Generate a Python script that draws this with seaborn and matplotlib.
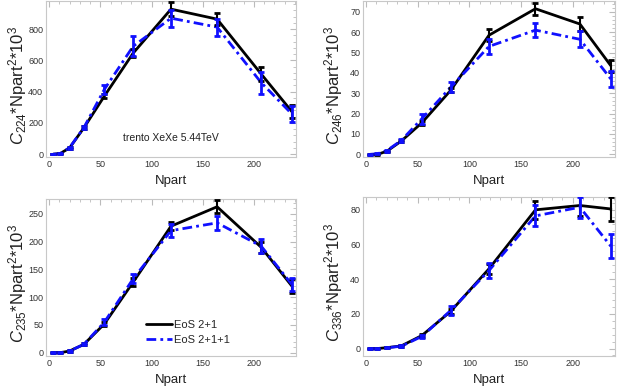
import numpy as np
import pandas as pd
import matplotlib
matplotlib.use('Agg')
import matplotlib.pyplot as plt
from matplotlib.ticker import AutoMinorLocator
import seaborn as sns

# Npart of the centrality bins
npart = [4, 11, 20, 34, 54, 82, 119, 164, 207, 237]

# C224 * Npart^2 * 10^3
c224_21 = [0, 5, 40, 169, 372, 646, 928, 864, 513, 272]
c224_21_err = [2, 3, 5, 10, 15, 25, 45, 40, 45, 40]
c224_211 = [0, 3, 42, 170, 415, 690, 870, 813, 458, 257]
c224_211_err = [2, 3, 6, 12, 30, 65, 55, 55, 70, 50]

# C246 * Npart^2 * 10^3
c246_21 = [0, 0, 1.5, 6.5, 15.5, 31.5, 58.5, 71.5, 64, 43.5]
c246_21_err = [0.2, 0.2, 0.3, 0.5, 1, 1, 3, 3, 3.5, 3]
c246_211 = [0, 0.3, 1.8, 6.8, 17.5, 33, 53, 61, 56.5, 37]
c246_211_err = [0.2, 0.2, 0.4, 0.8, 2.5, 2.5, 3.5, 3.5, 4, 4]

# C235 * Npart^2 * 10^3
c235_21 = [0, 0, 3, 15, 52, 127, 228, 263, 190, 120]
c235_21_err = [0.5, 0.5, 1, 2, 4, 7, 7, 12, 10, 12]
c235_211 = [0, 0, 3, 15, 55, 133, 220, 234, 192, 123]
c235_211_err = [0.5, 0.5, 1, 2, 5, 8, 12, 12, 12, 12]

# C336 * Npart^2 * 10^3
c336_21 = [0, 0, 0.5, 1.5, 7.5, 21.5, 46, 80, 82.5, 80.5]
c336_21_err = [0.2, 0.2, 0.2, 0.5, 1, 1.5, 3, 5, 6, 7]
c336_211 = [0, 0, 0.5, 1.3, 7, 22, 45, 76.5, 81.5, 59]
c336_211_err = [0.2, 0.2, 0.2, 0.5, 1, 2.5, 4.5, 6, 6, 7]

panels = [
    ("224", c224_21, c224_21_err, c224_211, c224_211_err, (-18, 980), [0, 200, 400, 600, 800]),
    ("246", c246_21, c246_21_err, c246_211, c246_211_err, (-1.3, 75.3), [0, 10, 20, 30, 40, 50, 60, 70]),
    ("235", c235_21, c235_21_err, c235_211, c235_211_err, (-6, 277), [0, 50, 100, 150, 200, 250]),
    ("336", c336_21, c336_21_err, c336_211, c336_211_err, (-4.3, 87.4), [0, 20, 40, 60, 80]),
]

sns.set_style("white")
plt.rcParams['font.family'] = ['Liberation Sans', 'DejaVu Sans']
plt.rcParams['mathtext.fontset'] = 'custom'
plt.rcParams['mathtext.rm'] = 'Liberation Sans'
plt.rcParams['mathtext.it'] = 'Liberation Sans:italic'

fig = plt.figure(figsize=(6.23, 3.88), dpi=100)
W, H = 623, 388
# axes boxes in pixels: left, top, right, bottom
boxes = [(46, 1, 296, 157), (363, 1, 615, 157), (46, 199, 296, 356), (363, 197, 615, 356)]

blue = '#1010ff'
for (name, y1, e1, y2, e2, ylim, yticks), (l, t, r, b) in zip(panels, boxes):
    ax = fig.add_axes([l / W, 1 - b / H, (r - l) / W, (b - t) / H])
    df = pd.DataFrame({
        'Npart': npart * 2,
        'value': y1 + y2,
        'err': e1 + e2,
        'EoS': ['EoS 2+1'] * len(npart) + ['EoS 2+1+1'] * len(npart),
    })
    sns.lineplot(data=df, x='Npart', y='value', hue='EoS', style='EoS',
                 palette={'EoS 2+1': 'black', 'EoS 2+1+1': blue},
                 dashes={'EoS 2+1': '', 'EoS 2+1+1': (3.5, 1.5, 1, 1.5)},
                 linewidth=2, ax=ax, legend=(name == '235'), zorder=3)
    for eos, col in [('EoS 2+1', 'black'), ('EoS 2+1+1', blue)]:
        sub = df[df['EoS'] == eos]
        ax.errorbar(sub['Npart'], sub['value'], yerr=sub['err'], fmt='none',
                    ecolor=col, elinewidth=2 if col != 'black' else 1.5,
                    capsize=2, capthick=2, zorder=4)
    ax.set_xlim(-3, 241)
    ax.set_ylim(*ylim)
    ax.set_xticks([0, 50, 100, 150, 200])
    ax.set_yticks(yticks)
    ax.xaxis.set_minor_locator(AutoMinorLocator(5))
    ax.yaxis.set_minor_locator(AutoMinorLocator(5))
    ax.tick_params(which='both', direction='in', top=True, right=True,
                   color='#bbbbbb', labelsize=6.5, labelcolor='#333333', pad=2)
    ax.tick_params(which='major', length=4)
    ax.tick_params(which='minor', length=2)
    for sp in ax.spines.values():
        sp.set_color('#c8c8c8')
        sp.set_linewidth(0.8)
    ax.set_xlabel('Npart', fontsize=9.5, color='#222222')
    ax.xaxis.set_label_coords(0.5, -0.115)
    ax.set_ylabel(r'$C_{%s}$*Npart$^{2}$*10$^{3}$' % name, fontsize=12,
                  color='#222222')
    ax.yaxis.set_label_coords(-0.07, 0.46)
    if name == '224':
        ax.text(0.5, 0.12, 'trento XeXe 5.44TeV', transform=ax.transAxes,
                ha='center', va='center', fontsize=7.5, color='#222222')
    if name == '235':
        ax.legend(title=None, frameon=False, loc='center left',
                  bbox_to_anchor=(0.36, 0.15), fontsize=8, handlelength=2.3,
                  handletextpad=0.2, labelspacing=0.45)

fig.savefig('out.png', dpi=100)
